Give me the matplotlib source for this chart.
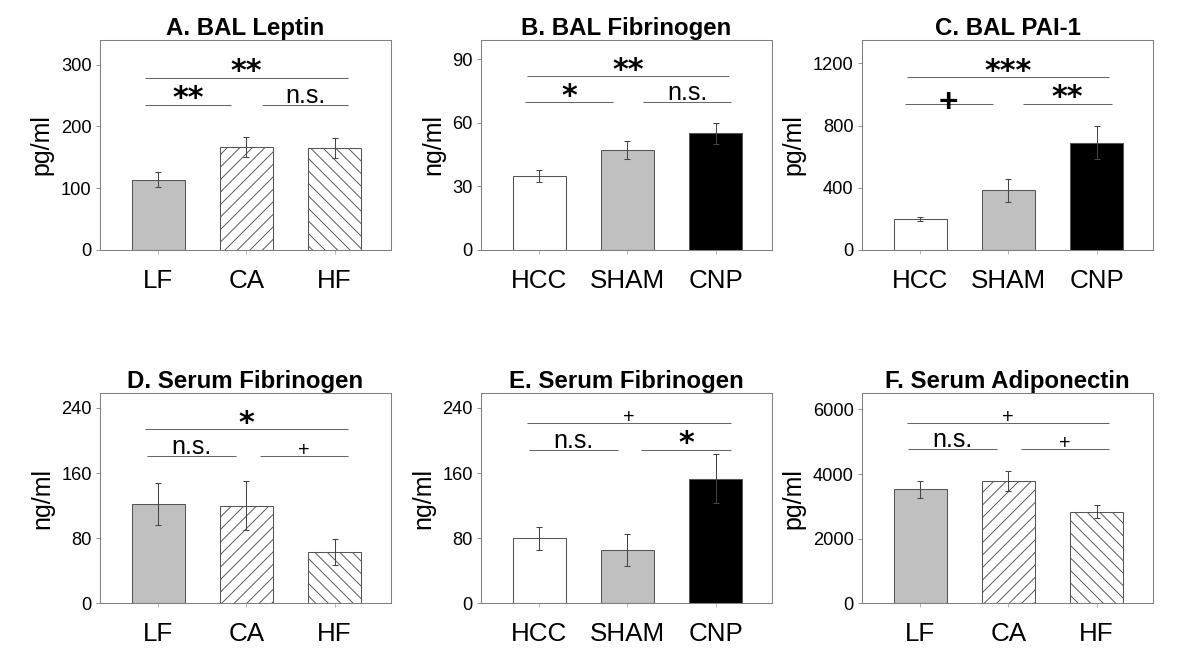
import matplotlib
matplotlib.use("Agg")
from matplotlib import pyplot as plt

plt.rcParams['font.family'] = ['Liberation Sans', 'DejaVu Sans']
plt.rcParams['hatch.linewidth'] = 0.9

# ---- data ----
diet_groups = ["LF", "CA", "HF"]
exposure_groups = ["HCC", "SHAM", "CNP"]

bal_leptin = [114, 167, 165]
bal_leptin_err = [12, 16, 16]

bal_fibrinogen = [35, 47.2, 55]
bal_fibrinogen_err = [2.8, 4.4, 5]

bal_pai1 = [200, 384, 690]
bal_pai1_err = [15, 73, 106]

serum_fib_diet = [122, 120, 63]
serum_fib_diet_err = [26, 30, 16]

serum_fib_exp = [80, 65.6, 153]
serum_fib_exp_err = [14, 20, 30]

serum_adipo = [3526, 3784, 2835]
serum_adipo_err = [268, 320, 196]

titles = ["A. BAL Leptin", "B. BAL Fibrinogen", "C. BAL PAI-1",
          "D. Serum Fibrinogen", "E. Serum Fibrinogen", "F. Serum Adiponectin"]
units = ["pg/ml", "ng/ml", "pg/ml", "ng/ml", "ng/ml", "pg/ml"]
yticks = [[0, 100, 200, 300], [0, 30, 60, 90], [0, 400, 800, 1200],
          [0, 80, 160, 240], [0, 80, 160, 240], [0, 2000, 4000, 6000]]
ytops = [340, 99, 1350, 258, 258, 6500]

# significance brackets: (from, to, level, label)
sig_a = [(-0.15, 2.15, 279, "**"), (-0.15, 0.83, 235, "**"), (1.18, 2.15, 235, "n.s.")]
sig_b = [(-0.14, 2.15, 82, "**"), (-0.16, 0.84, 69.7, "*"), (1.18, 2.18, 69.7, "n.s.")]
sig_c = [(-0.15, 2.14, 1111, "***"), (-0.17, 0.82, 940, "+"), (1.17, 2.17, 940, "**")]
sig_d = [(-0.15, 2.15, 214, "*"), (-0.13, 0.88, 181, "n.s."), (1.15, 2.15, 181, "+")]
sig_e = [(-0.14, 2.17, 221.5, "+"), (-0.12, 0.89, 188.7, "n.s."), (1.16, 2.17, 188.7, "*")]
sig_f = [(-0.15, 2.14, 5588, "+"), (-0.14, 0.87, 4763, "n.s."), (1.14, 2.14, 4763, "+")]

panels = [
    (diet_groups, bal_leptin, bal_leptin_err, sig_a),
    (exposure_groups, bal_fibrinogen, bal_fibrinogen_err, sig_b),
    (exposure_groups, bal_pai1, bal_pai1_err, sig_c),
    (diet_groups, serum_fib_diet, serum_fib_diet_err, sig_d),
    (exposure_groups, serum_fib_exp, serum_fib_exp_err, sig_e),
    (diet_groups, serum_adipo, serum_adipo_err, sig_f),
]

# bar looks
diet_fill = [("#c0c0c0", ""), ("white", "//"), ("white", "\\\\")]
exp_fill = [("white", ""), ("#c0c0c0", ""), ("black", "")]
big_plus = [False, False, True, False, False, False]

fig = plt.figure(figsize=(16, 661 / 75), dpi=75)

lefts = [100 / 1200, 481 / 1200, 862 / 1200]
bottoms = [0.6218, 0.0873]
w, h = 0.2425, 0.3177

for i, (cats, vals, errs, sigs) in enumerate(panels):
    ax = fig.add_axes([lefts[i % 3], bottoms[i // 3], w, h])
    fills = diet_fill if cats == diet_groups else exp_fill
    x = range(len(cats))
    for xi, v, e, (fc, ht) in zip(x, vals, errs, fills):
        ax.bar(xi, v, width=0.6, color=fc, edgecolor="#555555", linewidth=1, hatch=ht)
        ax.errorbar(xi, v, yerr=e, fmt="none", ecolor="#444444", elinewidth=1,
                    capsize=2.5, capthick=1)

    ax.set_xlim(-0.66, 2.64)
    ax.set_ylim(0, ytops[i])
    ax.set_yticks(yticks[i])
    ax.set_xticks(list(x))
    ax.set_xticklabels(cats, fontsize=25)
    ax.tick_params(axis="x", length=4, color="#aaaaaa", pad=14)
    ax.tick_params(axis="y", length=4, color="#808080", labelsize=17.5, pad=4)
    for sp in ax.spines.values():
        sp.set_color("#808080")
        sp.set_linewidth(1)
    ax.set_ylabel(units[i], fontsize=24, labelpad=7)
    ax.set_title(titles[i], fontsize=23, fontweight="bold", pad=3)

    for x1, x2, yy, lab in sigs:
        ax.plot([x1, x2], [yy, yy], color="#666666", lw=1, solid_capstyle="butt")
        xm = (x1 + x2) / 2
        if "*" in lab:
            ax.annotate(lab, (xm, yy), xytext=(0, -2.5), textcoords="offset points",
                        ha="center", va="baseline", fontsize=29, fontweight="bold",
                        family="DejaVu Sans")
        elif lab == "+" and big_plus[i]:
            ax.annotate(lab, (xm, yy), xytext=(0, -8), textcoords="offset points",
                        ha="center", va="baseline", fontsize=32, fontweight="bold")
        elif lab == "+":
            ax.annotate(lab, (xm, yy), xytext=(0, 0), textcoords="offset points",
                        ha="center", va="baseline", fontsize=19)
        else:
            ax.annotate(lab, (xm, yy), xytext=(0, 2), textcoords="offset points",
                        ha="center", va="baseline", fontsize=24)

fig.savefig("out.png", dpi=75)
